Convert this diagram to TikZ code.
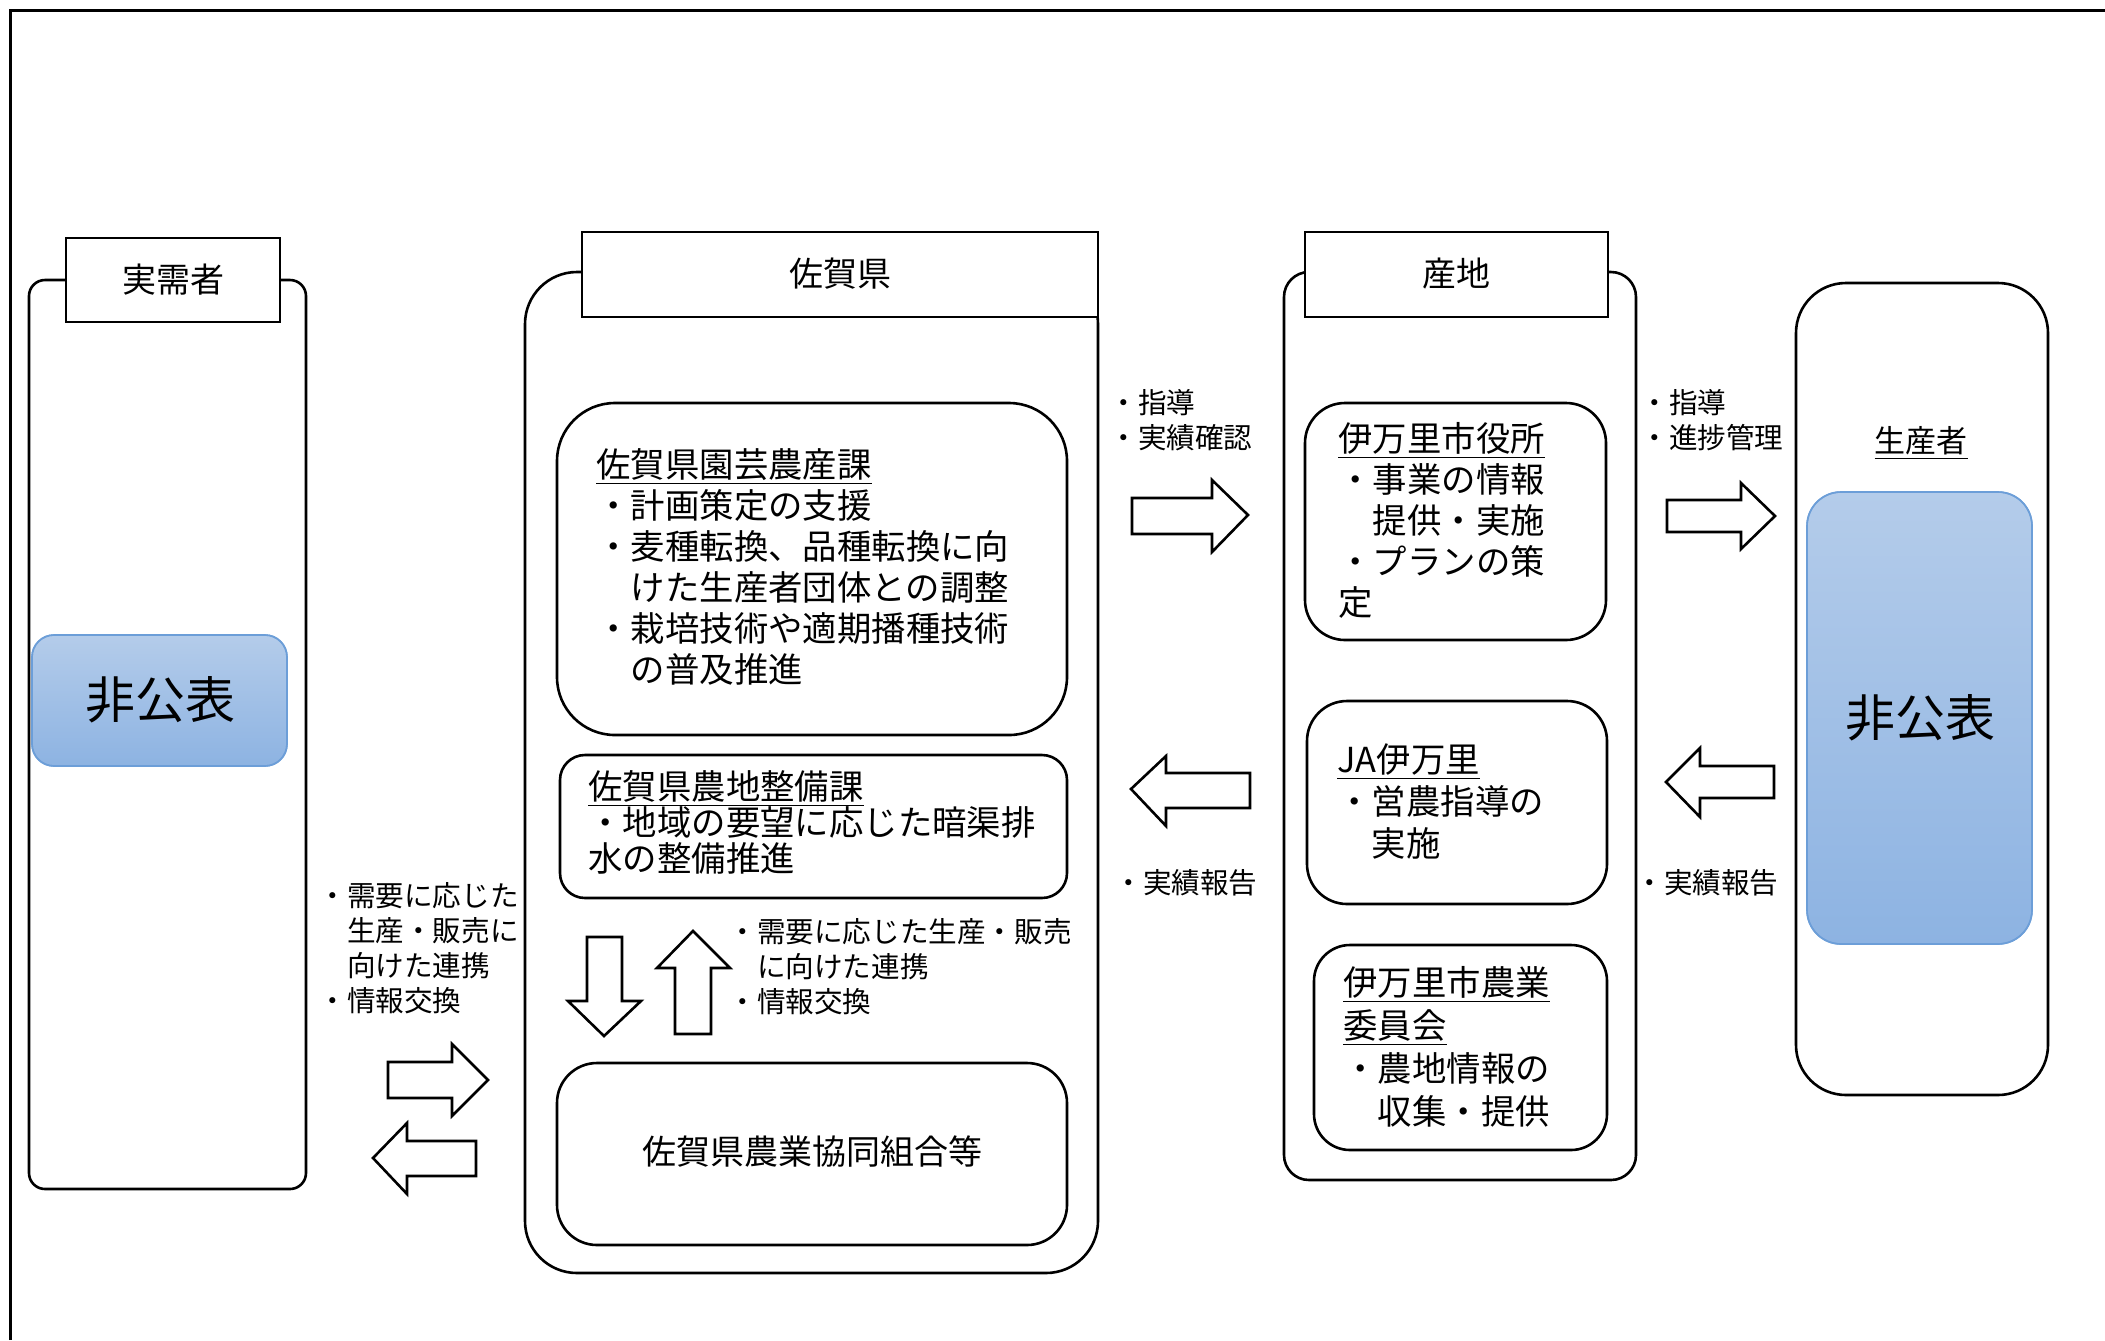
\documentclass[tikz,border=0pt]{standalone}
\usepackage{fontspec}
\setmainfont{Noto Sans CJK JP}
\definecolor{bluetop}{HTML}{B4CCEA}
\definecolor{bluebot}{HTML}{8DB3E2}
\definecolor{blueedge}{HTML}{6C9ED8}
\newcommand{\firstln}{\rule{0pt}{0.9em}}
\begin{document}
\begin{tikzpicture}[x=0.5pt,y=-0.5pt,
  box/.style={draw=black,line width=1.3pt,fill=white},
  arr/.style={draw=black,line width=1.3pt,fill=white,line join=miter},
  bluebox/.style={draw=blueedge,line width=0.8pt,top color=bluetop,bottom color=bluebot},
  txt/.style={inner sep=0pt,anchor=north west,align=left,font=\fontsize{17.2}{20.5}\selectfont},
  lbl/.style={inner sep=0pt,anchor=north west,align=left,font=\fontsize{14.3}{17.5}\selectfont},
  title/.style={inner sep=0pt,font=\fontsize{17}{20}\selectfont}
]
\useasboundingbox (0,0) rectangle (2105,1340);
\fill[white] (0,0) rectangle (2105,1340);
% page frame
\draw[line width=1.5pt] (10,1340) -- (10,10) -- (2105,10);

% outer columns
\draw[box,rounded corners=8pt] (29,280) rectangle (306,1189);
\draw[box,rounded corners=26pt] (525,272) rectangle (1098,1273);
\draw[box,rounded corners=12.5pt] (1284,272) rectangle (1636,1180);
\draw[box,rounded corners=25pt] (1796,283) rectangle (2048,1095);

% headers
\draw[box] (66,238) rectangle (280,322);
\node[title] (hJ) at (173,280) {実需者};
\draw[box] (582,232) rectangle (1098,317);
\node[title] (hS) at (840,274) {佐賀県};
\draw[box] (1305,232) rectangle (1608,317);
\node[title] (hP) at (1456,274) {産地};

% blue boxes
\shade[bluebox,rounded corners=11pt] (32,635) rectangle (287,766);
\draw[blueedge,line width=0.8pt,rounded corners=11pt] (32,635) rectangle (287,766);
\node[inner sep=0pt,font=\fontsize{25}{28}\selectfont] (np1) at (160,700) {非公表};
\shade[bluebox,rounded corners=17pt] (1807,492) rectangle (2032,944);
\draw[blueedge,line width=0.8pt,rounded corners=17pt] (1807,492) rectangle (2032,944);
\node[inner sep=0pt,font=\fontsize{25}{28}\selectfont] (np2) at (1920,718) {非公表};
\node[inner sep=0pt,font=\fontsize{15.5}{18}\selectfont] (seisan) at (1921,443) {\underline{生産者}};

% inner boxes of Saga
\draw[box,rounded corners=29pt] (557,403) rectangle (1067,735);
\node[txt] (engei) at (596,446) {\firstln\underline{佐賀県園芸農産課}\\・計画策定の支援\\・麦種転換、品種転換に向\\　けた生産者団体との調整\\・栽培技術や適期播種技術\\　の普及推進};
\draw[box,rounded corners=12.5pt] (560,755) rectangle (1067,898);
\node[txt,font=\fontsize{17.2}{18}\selectfont] (nochi) at (588,768) {\firstln\underline{佐賀県農地整備課}\\・地域の要望に応じた暗渠排\\水の整備推進};
\draw[box,rounded corners=20pt] (557,1063) rectangle (1067,1245);
\node[title] (kyodo) at (812,1152) {佐賀県農業協同組合等};

% inner boxes of Sanchi
\draw[box,rounded corners=20pt] (1305,403) rectangle (1606,640);
\node[txt] (imari) at (1338,420) {\firstln\underline{伊万里市役所}\\・事業の情報\\　提供・実施\\・プランの策\\定};
\draw[box,rounded corners=20pt] (1307,701) rectangle (1607,904);
\node[txt,font=\fontsize{17.2}{21}\selectfont] (ja) at (1337,741) {\firstln\underline{JA伊万里}\\・営農指導の\\　実施};
\draw[box,rounded corners=18pt] (1314,945) rectangle (1607,1150);
\node[txt,font=\fontsize{17.2}{21.5}\selectfont] (iinkai) at (1343,964) {\firstln\underline{伊万里市農業}\\\underline{委員会}\\・農地情報の\\　収集・提供};

% block arrows
\draw[arr] (388,1062) -- (452,1062) -- (452,1044) -- (488,1080) -- (452,1116) -- (452,1098) -- (388,1098) -- cycle;
\draw[arr] (373,1158) -- (407,1123) -- (407,1141) -- (476,1141) -- (476,1176) -- (407,1176) -- (407,1194) -- cycle;
\draw[arr] (587,937) -- (622,937) -- (622,1001) -- (641,1001) -- (604,1036) -- (568,1001) -- (587,1001) -- cycle;
\draw[arr] (693,931) -- (730,968) -- (711,968) -- (711,1034) -- (675,1034) -- (675,968) -- (657,968) -- cycle;
\draw[arr] (1132,498) -- (1212,498) -- (1212,480) -- (1248,515) -- (1212,552) -- (1212,534) -- (1132,534) -- cycle;
\draw[arr] (1131,789) -- (1166,756) -- (1166,773) -- (1250,773) -- (1250,808) -- (1166,808) -- (1166,826) -- cycle;
\draw[arr] (1667,500) -- (1741,500) -- (1741,483) -- (1775,516) -- (1741,549) -- (1741,532) -- (1667,532) -- cycle;
\draw[arr] (1666,782) -- (1700,748) -- (1700,766) -- (1774,766) -- (1774,798) -- (1700,798) -- (1700,817) -- cycle;

% labels
\node[lbl] (l1) at (318,880) {\firstln・需要に応じた\\　生産・販売に\\　向けた連携\\・情報交換};
\node[lbl] (l2) at (728,916) {\firstln・需要に応じた生産・販売\\　に向けた連携\\・情報交換};
\node[lbl] (l3) at (1109,387) {\firstln・指導\\・実績確認};
\node[lbl] (l4) at (1114,867) {\firstln・実績報告};
\node[lbl] (l5) at (1640,387) {\firstln・指導\\・進捗管理};
\node[lbl] (l6) at (1635,867) {\firstln・実績報告};
\end{tikzpicture}
\end{document}
